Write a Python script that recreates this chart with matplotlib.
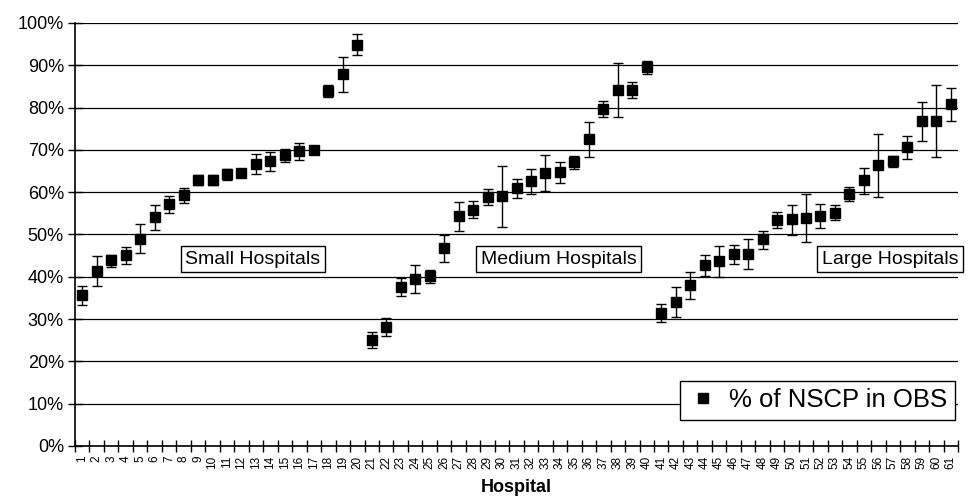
import numpy as np
import matplotlib
matplotlib.use("Agg")
import matplotlib.pyplot as plt
import matplotlib.lines as mlines

plt.rcParams['font.family'] = ['Liberation Sans', 'DejaVu Sans']

hospitals = list(range(1, 62))

# % of NSCP in OBS, with upper and lower error bar ends
pct = [35.6, 41.4, 44.0, 45.1, 49.0, 54.1, 57.2, 59.3, 62.9, 62.9,
       64.3, 64.5, 66.7, 67.4, 68.8, 69.7, 70.0, 84.0, 87.9, 94.9,
       25.1, 28.2, 37.7, 39.5, 40.2, 46.7, 54.4, 55.9, 58.9, 59.1,
       61.1, 62.6, 64.5, 64.7, 67.1, 72.5, 79.6, 84.2, 84.2, 89.6,
       31.4, 34.0, 38.0, 42.7, 43.7, 45.4, 45.4, 48.9, 53.4, 53.6,
       53.8, 54.4, 55.2, 59.6, 62.8, 66.4, 67.3, 70.7, 76.9, 76.9, 80.9]
upper = [37.8, 44.8, 45.1, 47.1, 52.4, 56.9, 59.1, 61.1, 64.1, 64.1,
         65.4, 65.2, 69.0, 69.4, 70.2, 71.7, 70.8, 85.3, 92.0, 97.3,
         26.9, 30.2, 39.8, 42.8, 41.6, 49.8, 57.7, 57.9, 60.7, 66.2,
         63.1, 65.6, 68.7, 67.2, 68.6, 76.5, 81.6, 90.5, 86.1, 91.0,
         33.5, 37.5, 41.1, 45.2, 47.2, 47.5, 48.9, 50.9, 55.3, 57.0,
         59.5, 57.1, 57.0, 61.3, 65.8, 73.8, 68.6, 73.3, 81.4, 85.3, 84.7]
lower = [33.4, 37.8, 42.4, 43.0, 45.6, 51.1, 55.2, 57.4, 61.6, 61.7,
         63.0, 63.8, 64.3, 65.1, 67.1, 67.5, 69.2, 82.4, 83.8, 92.4,
         23.2, 26.0, 35.5, 36.1, 38.5, 43.5, 50.9, 53.9, 57.0, 51.8,
         58.7, 59.6, 60.2, 62.2, 65.5, 68.4, 77.8, 77.8, 82.3, 88.0,
         29.2, 30.4, 34.8, 40.2, 40.0, 43.1, 41.9, 46.6, 51.5, 49.9,
         48.2, 51.5, 53.4, 58.0, 59.6, 58.9, 65.9, 67.8, 72.2, 68.4, 76.9]

groups = ["Small Hospitals", "Medium Hospitals", "Large Hospitals"]
group_pos = [12.8, 33.9, 56.8]

pct = np.array(pct)
err = [pct - np.array(lower), np.array(upper) - pct]

fig = plt.figure(figsize=(9.68, 4.97), dpi=100)
ax = fig.add_axes([75 / 968, 51 / 497, 883 / 968, 423 / 497])

ax.errorbar(hospitals, pct, yerr=err, fmt='s', color='black', markersize=6.8,
            ecolor='black', elinewidth=1, capsize=3.3, capthick=1, zorder=3)

ax.set_xlim(0.5, 61.5)
ax.set_ylim(0, 100)
ax.set_yticks(np.arange(0, 101, 10))
ax.set_yticklabels([f"{v}%" for v in range(0, 101, 10)], fontsize=13)
ax.yaxis.grid(True, color='black', linewidth=0.9, zorder=1)

# category axis: ticks between categories, labels centred
ax.set_xticks(np.arange(0.5, 62, 1))
ax.set_xticklabels([])
ax.set_xticks(hospitals, minor=True)
ax.set_xticklabels([str(h) for h in hospitals], minor=True, rotation=90, fontsize=8.5)
ax.tick_params(axis='x', which='major', direction='inout', length=8, width=1)
ax.tick_params(axis='x', which='minor', length=0, pad=7)
ax.tick_params(axis='y', direction='inout', length=10, width=1, pad=3)

for s in ['top', 'right']:
    ax.spines[s].set_visible(False)
for s in ['left', 'bottom']:
    ax.spines[s].set_linewidth(1.2)

ax.set_xlabel("Hospital", fontsize=13, fontweight='bold')
ax.xaxis.set_label_coords(0.5, -0.079)

for name, xpos in zip(groups, group_pos):
    ax.text(xpos, 44.2, name, fontsize=14, ha='center', va='center', zorder=4,
            bbox=dict(boxstyle='square,pad=0.25', facecolor='white', edgecolor='black', linewidth=1))

handle = mlines.Line2D([], [], color='black', marker='s', linestyle='none', markersize=7,
                       label='% of NSCP in OBS')
leg = ax.legend(handles=[handle], loc='lower right', bbox_to_anchor=(0.9966, 0.0615),
                borderaxespad=0, fontsize=18.5, frameon=True, fancybox=False, edgecolor='black',
                handletextpad=0.4, handlelength=1.2, borderpad=0.3, framealpha=1)
leg.get_frame().set_linewidth(1)

fig.savefig("out.png", dpi=100)
